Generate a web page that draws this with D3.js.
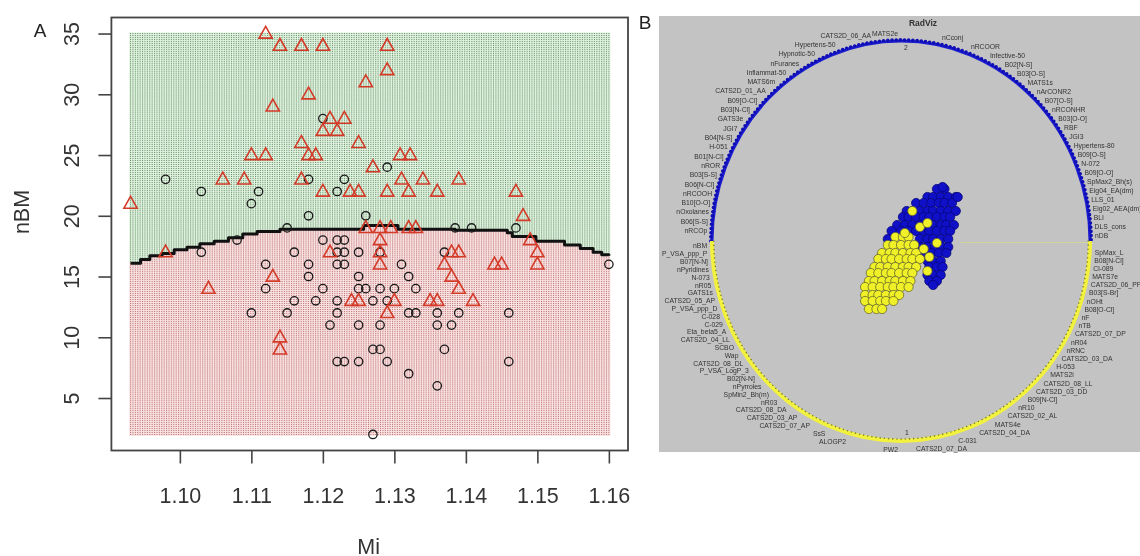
<!DOCTYPE html>
<html>
<head>
<meta charset="utf-8">
<script src="https://cdn.jsdelivr.net/npm/d3@7"></script>
<style>
  body { margin: 0; background: #fff; }
  #wrap { position: relative; width: 1140px; height: 556px; }
  #wrap canvas, #wrap svg { position: absolute; left: 0; top: 0; display: block; }
  svg { font-family: "Liberation Sans", Arial, sans-serif; }
</style>
</head>
<body>
<div id="wrap">
  <canvas id="grid" width="1140" height="556"></canvas>
  <svg id="chart" width="1140" height="556"></svg>
</div>
<script>
// ---------- Panel A: Mi vs nBM, two classes ----------
const circleMi  = [1.098,1.103,1.111,1.110,1.118,1.120,1.123,1.122,1.129,1.118,1.126,1.115,1.1385,1.1408,1.147,
                   1.103,1.108,1.116,1.120,1.122,1.123,1.122,1.123,1.125,1.128,1.112,1.118,1.122,1.123,1.131,
                   1.118,1.125,1.132,1.112,1.120,1.125,1.126,1.128,1.130,1.133,1.116,1.119,1.122,1.127,1.129,
                   1.110,1.115,1.122,1.132,1.133,1.136,1.139,1.146,1.121,1.125,1.128,1.136,1.138,1.137,
                   1.127,1.128,1.137,1.122,1.123,1.125,1.129,1.146,1.132,1.136,1.127,1.160];
const circleNBM = [23,22,22,21,23,28,23,22,24,20,20,19,19,19,19,
                   17,18,17,18,18,18,17,17,17,17,16,16,16,16,16,
                   15,15,15,14,14,14,14,14,14,14,13,13,13,13,13,
                   12,12,12,12,12,12,12,12,11,11,11,11,11,17,
                   9,9,9,8,8,8,8,8,7,6,2,16];

const triangleMi  = [1.112,1.114,1.117,1.120,1.129,1.129,1.126,1.118,1.113,1.121,1.123,1.120,1.122,1.117,1.125,
                     1.110,1.112,1.118,1.119,1.1308,1.1322,1.127,1.106,1.109,1.117,1.131,1.134,1.139,
                     1.120,1.1238,1.125,1.129,1.132,1.136,1.147,1.0931,1.148,
                     1.126,1.128,1.1295,1.132,1.133,1.098,1.121,1.128,1.128,1.128,1.138,1.139,1.137,1.138,1.139,
                     1.144,1.145,1.149,1.150,1.150,1.104,1.113,1.114,1.114,1.124,1.125,1.130,1.129,1.135,1.136,1.141];
const triangleNBM = [35,34,34,34,34,32,31,30,29,28,28,27,27,26,26,
                     25,25,25,25,25,25,24,23,23,23,23,23,23,
                     22,22,22,22,22,22,22,21,20,
                     19,19,19,19,19,17,17,18,17,16,17,17,16,15,14,
                     16,16,18,17,16,14,15,10,9,13,13,13,12,13,13,13];

// class boundary traced as a staircase over Mi
const boundaryMi  = [1.0931,1.0945,1.0958,1.0975,1.0992,1.1010,1.1028,1.1048,1.1068,1.1088,1.1108,1.1140,
                     1.1257,1.1305,1.1385,1.1458,1.1465,1.1498,1.1538,1.1560,1.1578,1.1590,1.1600];
const boundaryNBM = [16.1,16.4,16.7,16.9,17.2,17.4,17.7,17.9,18.2,18.5,18.7,18.9,
                     19.2,18.9,18.8,18.6,18.3,17.9,17.6,17.3,17.0,16.8,16.7];

const miTicks  = [1.10, 1.11, 1.12, 1.13, 1.14, 1.15, 1.16];
const nbmTicks = [5, 10, 15, 20, 25, 30, 35];
const gridSize = 200;

// ---------- Panel B: RadViz projection ----------
const blueU = [0.19,0.23, 0.14,0.17,0.21,0.25,0.29, 0.08,0.12,0.16,0.20,0.23,0.27,
               0.03,0.06,0.10,0.14,0.17,0.21,0.25,0.29, 0.01,0.04,0.08,0.12,0.15,0.19,0.23,0.26,
               -0.02,0.02,0.06,0.10,0.13,0.17,0.21,0.24,0.28, -0.05,0.00,0.04,0.08,0.12,0.15,0.19,0.23,0.26,
               -0.07,0.10,0.14,0.17,0.21,0.25, 0.11,0.14,0.18,0.22,0.25, 0.13,0.16,0.20,0.24,
               0.14,0.17,0.21, 0.15,0.19,0.22, 0.14,0.17,0.21, 0.15,0.19, 0.17, 0.30,0.22];
const blueV = [0.26,0.26, 0.22,0.22,0.22,0.22,0.22, 0.19,0.19,0.19,0.19,0.19,0.19,
               0.15,0.15,0.15,0.15,0.15,0.15,0.15,0.15, 0.12,0.12,0.12,0.12,0.12,0.12,0.12,0.12,
               0.08,0.08,0.08,0.08,0.08,0.08,0.08,0.08,0.08, 0.05,0.05,0.05,0.05,0.05,0.05,0.05,0.05,0.05,
               0.01,0.01,0.01,0.01,0.01,0.01, -0.03,-0.03,-0.03,-0.03,-0.03, -0.06,-0.06,-0.06,-0.06,
               -0.10,-0.10,-0.10, -0.13,-0.13,-0.13, -0.17,-0.17,-0.17, -0.20,-0.20, -0.22, 0.22,0.27];

const yellowU = [-0.03,0.01,0.04, -0.07,-0.04,0.00,0.04,0.07, -0.10,-0.06,-0.03,0.01,0.05,0.08,
                 -0.12,-0.08,-0.05,-0.01,0.03,0.06,0.10, -0.14,-0.11,-0.07,-0.03,0.01,0.04,0.08,
                 -0.16,-0.12,-0.08,-0.05,-0.01,0.03,0.06, -0.17,-0.14,-0.10,-0.06,-0.03,0.01,0.05,
                 -0.19,-0.15,-0.11,-0.07,-0.04,0.00,0.04, -0.19,-0.15,-0.12,-0.08,-0.04,-0.01,
                 -0.19,-0.15,-0.11,-0.08,-0.04, -0.17,-0.13,-0.10,
                 0.10,0.14,0.06,0.12,0.15,0.14,0.19,0.02];
const yellowV = [0.02,0.02,0.02, -0.02,-0.02,-0.02,-0.02,-0.02, -0.06,-0.06,-0.06,-0.06,-0.06,-0.06,
                 -0.09,-0.09,-0.09,-0.09,-0.09,-0.09,-0.09, -0.13,-0.13,-0.13,-0.13,-0.13,-0.13,-0.13,
                 -0.16,-0.16,-0.16,-0.16,-0.16,-0.16,-0.16, -0.20,-0.20,-0.20,-0.20,-0.20,-0.20,-0.20,
                 -0.23,-0.23,-0.23,-0.23,-0.23,-0.23,-0.23, -0.27,-0.27,-0.27,-0.27,-0.27,-0.27,
                 -0.30,-0.30,-0.30,-0.30,-0.30, -0.34,-0.34,-0.34,
                 0.07,0.09,0.15,-0.04,-0.08,-0.15,-0.01,0.04];

const topLabel = "MATS2e";
const labelsUpperLeft = ["CATS2D_06_AA","Hypertens-50","Hypnotic-50","nFuranes","Inflammat-50","MATS6m",
  "CATS2D_01_AA","B09[O-Cl]","B03[N-Cl]","GATS3e","JGI7","B04[N-S]","H-051","B01[N-Cl]","nROR",
  "B03[S-S]","B06[N-Cl]","nRCOOH","B10[O-O]","nOxolanes","B06[S-S]","nRCOp"];
const labelsUpperRight = ["nCconj","nRCOOR","Infective-50","B02[N-S]","B03[O-S]","MATS1s","nArCONR2",
  "B07[O-S]","nRCONHR","B03[O-O]","RBF","JGI3","Hypertens-80","B09[O-S]","N-072","B09[O-O]",
  "SpMax2_Bh(s)","Eig04_EA(dm)","LLS_01","Eig02_AEA(dm)","BLI","DLS_cons","nDB"];
const labelsLowerLeft = ["nBM","P_VSA_ppp_P","B07[N-N]","nPyridines","N-073","nR05","GATS1s",
  "CATS2D_05_AP","P_VSA_ppp_D","C-028","C-029","Eta_beta5_A","CATS2D_04_LL","SCBO","Wap",
  "CATS2D_08_DL","P_VSA_LogP_3","B02[N-N]","nPyrroles","SpMin2_Bh(m)","nR03","CATS2D_08_DA",
  "CATS2D_03_AP","CATS2D_07_AP","SsS","ALOGP2","PW2"];
const labelsLowerRight = ["SpMax_L","B08[N-Cl]","Cl-089","MATS7e","CATS2D_06_PP","B03[S-Br]","nOHt",
  "B08[O-Cl]","nF","nTB","CATS2D_07_DP","nR04","nRNC","CATS2D_03_DA","H-053","MATS2i",
  "CATS2D_08_LL","CATS2D_03_DD","B09[N-Cl]","nR10","CATS2D_02_AL","MATS4e","CATS2D_04_DA",
  "C-031","CATS2D_07_DA"];

// ================= drawing =================
const svg = d3.select("#chart");
const ctx = document.getElementById("grid").getContext("2d");

function padExtent(vals) {
  const [a, b] = d3.extent(vals);
  const p = (b - a) * 0.04;
  return [a - p, b + p];
}
const allMi = circleMi.concat(triangleMi);
const allNBM = circleNBM.concat(triangleNBM);

const plotA = { left: 111.4, right: 628, top: 17.5, bottom: 450.5 };
const x = d3.scaleLinear().domain(padExtent(allMi)).range([plotA.left, plotA.right]);
const y = d3.scaleLinear().domain(padExtent(allNBM)).range([plotA.bottom, plotA.top]);

// boundary lookup (step-after) for the prediction grid
function boundaryAt(m) {
  const i = d3.bisectRight(boundaryMi, m) - 1;
  return boundaryNBM[Math.max(0, Math.min(boundaryNBM.length - 1, i))];
}

// prediction grid over the data range
const [gMi0, gMi1] = d3.extent(allMi);
const [gN0, gN1] = d3.extent(allNBM);
const gridMi = d3.range(gridSize).map(i => gMi0 + (gMi1 - gMi0) * i / (gridSize - 1));
const gridN = d3.range(gridSize).map(j => gN0 + (gN1 - gN0) * j / (gridSize - 1));
const dxCell = Math.abs(x(gridMi[1]) - x(gridMi[0]));
const dyCell = Math.abs(y(gridN[1]) - y(gridN[0]));
const gridColors = {
  up:   { tint: "#ddf0dd", dot: "rgba(80,125,80,0.85)" },
  down: { tint: "#f8dfdf", dot: "rgba(175,90,90,0.85)" }
};
gridMi.forEach(m => {
  const b = boundaryAt(m);
  gridN.forEach(n => {
    const c = n > b ? gridColors.up : gridColors.down;
    ctx.fillStyle = c.tint;
    ctx.fillRect(x(m) - dxCell / 2, y(n) - dyCell / 2, dxCell + 0.3, dyCell + 0.3);
  });
});
gridMi.forEach(m => {
  const b = boundaryAt(m);
  gridN.forEach(n => {
    const c = n > b ? gridColors.up : gridColors.down;
    ctx.fillStyle = c.dot;
    ctx.fillRect(x(m) - 0.5, y(n) - 0.5, 1, 1);
  });
});

const gA = svg.append("g");

// boundary line
gA.append("path")
  .datum(boundaryMi.map((m, i) => [m, boundaryNBM[i]]))
  .attr("fill", "none").attr("stroke", "#111").attr("stroke-width", 3)
  .attr("stroke-linejoin", "round")
  .attr("d", d3.line().x(d => x(d[0])).y(d => y(d[1])).curve(d3.curveStepAfter));

// circles (class 0)
gA.append("g").selectAll("circle")
  .data(circleMi.map((m, i) => [m, circleNBM[i]]))
  .join("circle")
  .attr("cx", d => x(d[0])).attr("cy", d => y(d[1])).attr("r", 4.2)
  .attr("fill", "none").attr("stroke", "#1a1a1a").attr("stroke-width", 1.3);

// triangles (class 1)
const tri = "M0,-7.2L6.6,4.6L-6.6,4.6Z";
gA.append("g").selectAll("path")
  .data(triangleMi.map((m, i) => [m, triangleNBM[i]]))
  .join("path")
  .attr("transform", d => `translate(${x(d[0])},${y(d[1])})`)
  .attr("d", tri)
  .attr("fill", "none").attr("stroke", "#d43a28").attr("stroke-width", 1.6)
  .attr("stroke-linejoin", "miter");

// frame
gA.append("rect")
  .attr("x", plotA.left).attr("y", plotA.top)
  .attr("width", plotA.right - plotA.left).attr("height", plotA.bottom - plotA.top)
  .attr("fill", "none").attr("stroke", "#444").attr("stroke-width", 1.8);

// axes
const axisFont = 21.5;
const xAxis = gA.append("g").attr("transform", `translate(0,${plotA.bottom})`)
  .call(d3.axisBottom(x).tickValues(miTicks).tickSize(13).tickFormat(d3.format(".2f")));
xAxis.select(".domain").remove();
xAxis.selectAll("line").attr("stroke", "#444").attr("stroke-width", 1.6);
xAxis.selectAll("text").attr("y", 45).attr("dy", null)
  .attr("dominant-baseline", "central")
  .attr("font-size", axisFont).attr("fill", "#333").attr("font-family", "Liberation Sans, Arial, sans-serif");

const yAxis = gA.append("g").attr("transform", `translate(${plotA.left},0)`)
  .call(d3.axisLeft(y).tickValues(nbmTicks).tickSize(13));
yAxis.select(".domain").remove();
yAxis.selectAll("line").attr("stroke", "#444").attr("stroke-width", 1.6);
yAxis.selectAll("text")
  .attr("x", 0).attr("y", -39).attr("dy", null)
  .attr("transform", "rotate(-90)")
  .attr("text-anchor", "middle").attr("dominant-baseline", "central")
  .attr("font-size", axisFont).attr("fill", "#333").attr("font-family", "Liberation Sans, Arial, sans-serif");

gA.append("text").attr("x", (plotA.left + plotA.right) / 2 - 1).attr("y", 547)
  .attr("text-anchor", "middle").attr("dominant-baseline", "central")
  .attr("font-size", axisFont).attr("fill", "#333").text("Mi");
gA.append("text").attr("transform", `translate(22,${(plotA.top + plotA.bottom) / 2 - 22}) rotate(-90)`)
  .attr("text-anchor", "middle").attr("dominant-baseline", "central")
  .attr("font-size", axisFont).attr("fill", "#333").text("nBM");
gA.append("text").attr("x", 40).attr("y", 30)
  .attr("text-anchor", "middle").attr("dominant-baseline", "central")
  .attr("font-size", 19).attr("fill", "#222").text("A");

// ---------- Panel B ----------
const gB = svg.append("g");
gB.append("rect").attr("x", 659).attr("y", 16).attr("width", 481).attr("height", 436).attr("fill", "#c3c3c3");
gB.append("text").attr("x", 645).attr("y", 22)
  .attr("text-anchor", "middle").attr("dominant-baseline", "central")
  .attr("font-size", 19).attr("fill", "#222").text("B");

const cx = 901, cy = 241, rx = 189, ry = 200;
const u = d3.scaleLinear().domain([-1, 1]).range([cx - rx, cx + rx]);
const v = d3.scaleLinear().domain([-1, 1]).range([cy + ry, cy - ry]);

gB.append("text").attr("x", 923).attr("y", 23)
  .attr("text-anchor", "middle").attr("dominant-baseline", "central")
  .attr("font-size", 8.5).attr("font-weight", "bold").attr("fill", "#333").text("RadViz");

const halfArc = (r1, r2, upper) => upper
  ? `M${cx - r1},${cy}A${r1},${r2} 0 0 1 ${cx + r1},${cy}`
  : `M${cx + r1},${cy}A${r1},${r2} 0 0 1 ${cx - r1},${cy}`;

// diameter line between the two halves
const grad = svg.append("defs").append("linearGradient").attr("id", "diam")
  .attr("x1", "0%").attr("x2", "100%");
[["0%", "#2a2ac0"], ["22%", "#8a8ab2"], ["38%", "#dcdc98"], ["50%", "#c8c8a6"], ["60%", "#5a5ab4"], ["100%", "#4848bc"]]
  .forEach(([o, c]) => grad.append("stop").attr("offset", o).attr("stop-color", c));
gB.append("line").attr("x1", cx + 60).attr("x2", cx + rx).attr("y1", cy + 1.6).attr("y2", cy + 1.6)
  .attr("stroke", "#d4d49a").attr("stroke-width", 1);
gB.append("line").attr("x1", cx - rx).attr("x2", cx + rx).attr("y1", cy - 0.5).attr("y2", cy - 0.5)
  .attr("stroke", "url(#diam)").attr("stroke-width", 1.8);

// arcs with anchor markers
gB.append("path").attr("d", halfArc(rx, ry, true)).attr("fill", "none")
  .attr("stroke", "#1c1cd0").attr("stroke-width", 3);
gB.append("path").attr("d", halfArc(rx + 1.2, ry + 1.2, true)).attr("fill", "none")
  .attr("stroke", "#0e0eb4").attr("stroke-width", 3.6)
  .attr("stroke-dasharray", "0 4.2").attr("stroke-linecap", "round");
gB.append("path").attr("d", halfArc(rx, ry, false)).attr("fill", "none")
  .attr("stroke", "#f2f23e").attr("stroke-width", 4);
gB.append("path").attr("d", halfArc(rx - 1.8, ry - 1.8, false)).attr("fill", "none")
  .attr("stroke", "#7c7c30").attr("stroke-width", 1.6)
  .attr("stroke-dasharray", "0 4.2").attr("stroke-linecap", "round");

// anchor labels
const labelG = gB.append("g").attr("font-size", 6.8).attr("fill", "#333");
function placeLabels(names, s0, s1, side) {
  const n = names.length;
  names.forEach((name, i) => {
    const s = s0 + (s1 - s0) * i / (n - 1);
    const c = Math.sqrt(Math.max(0, 1 - s * s));
    const lx = cx + side * ((rx + 2) * c + 3);
    const ly = cy - (ry + 8) * s;
    labelG.append("text").attr("x", lx).attr("y", ly)
      .attr("text-anchor", side < 0 ? "end" : "start")
      .attr("dominant-baseline", "central").text(name);
  });
}
placeLabels(labelsUpperLeft, 0.99, 0.05, -1);
placeLabels(labelsUpperRight, 0.98, 0.025, 1);
placeLabels(labelsLowerLeft, -0.024, -1.0, -1);
placeLabels(labelsLowerRight, -0.053, -0.998, 1);
labelG.append("text").attr("x", cx - 16).attr("y", cy - ry - 8)
  .attr("text-anchor", "middle").attr("dominant-baseline", "central").text(topLabel);
labelG.append("text").attr("x", cx + 5).attr("y", cy - ry + 6)
  .attr("text-anchor", "middle").attr("dominant-baseline", "central").text("2");
labelG.append("text").attr("x", cx + 6).attr("y", cy + ry - 9)
  .attr("text-anchor", "middle").attr("dominant-baseline", "central").text("1");

// projected samples
gB.append("g").selectAll("circle")
  .data(blueU.map((a, i) => [a, blueV[i]]))
  .join("circle")
  .attr("cx", d => u(d[0])).attr("cy", d => v(d[1])).attr("r", 4.6)
  .attr("fill", "#1010c8").attr("stroke", "#06067a").attr("stroke-width", 0.8);
gB.append("g").selectAll("circle")
  .data(yellowU.map((a, i) => [a, yellowV[i]]))
  .join("circle")
  .attr("cx", d => u(d[0])).attr("cy", d => v(d[1])).attr("r", 4.6)
  .attr("fill", "#f0f028").attr("stroke", "#6a6a2a").attr("stroke-width", 0.8);
</script>
</body>
</html>
